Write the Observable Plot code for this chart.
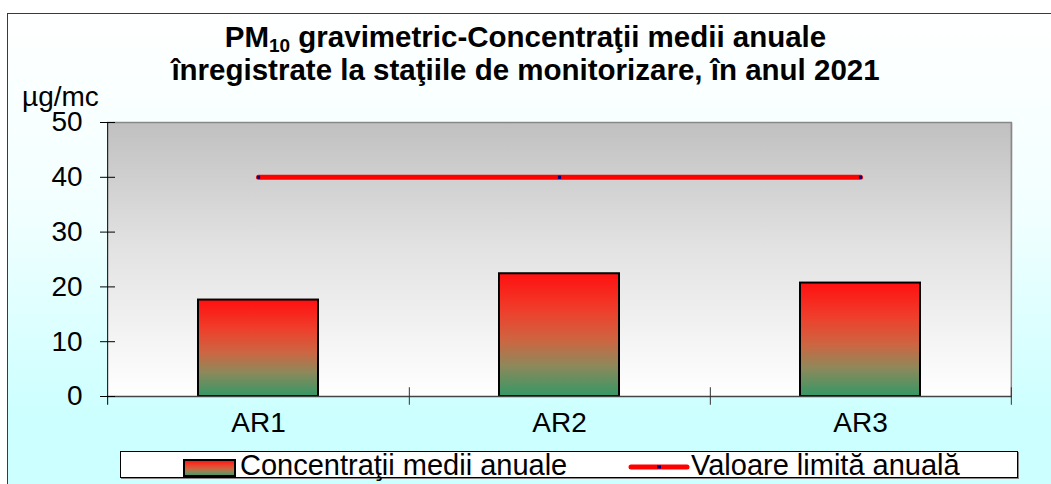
<!DOCTYPE html>
<html>
<head>
<meta charset="utf-8">
<script src="https://cdn.jsdelivr.net/npm/d3@7"></script>
<script src="https://cdn.jsdelivr.net/npm/@observablehq/plot@0.6"></script>
<style>
  html, body { margin: 0; padding: 0; background: #fff; }
  #wrap { position: relative; width: 1051px; height: 484px; overflow: hidden; font-family: "Liberation Sans", Arial, sans-serif; color: #000; }
  #bg { position: absolute; left: 7px; top: 13px; width: 1100px; height: 520px; border: 1.5px solid #3a3a3a;
        background: linear-gradient(to bottom, #ffffff 0%, #f2ffff 38%, #ccffff 78%, #ccffff 100%); }
  #title { position: absolute; left: 0; top: 20px; width: 1051px; text-align: center; font-weight: bold; font-size: 29.5px; line-height: 33px; }
  #title sub { font-size: 19px; line-height: 0; vertical-align: -5px; }
  #ylabel { position: absolute; left: 22px; top: 83px; font-size: 28px; line-height: 28px; }
  #chart { position: absolute; left: 0; top: 0; }
  #legend { position: absolute; left: 120px; top: 451px; width: 896px; height: 25px; background: #fff; border: 1px solid #000; box-shadow: 1px 1px 0 #888; }
  .lg { position: absolute; font-size: 29px; line-height: 29px; white-space: nowrap; }
</style>
</head>
<body>
<div id="wrap">
  <div id="bg"></div>
  <div id="title"></div>
  <div id="ylabel"></div>
  <div id="chart"></div>
  <div id="legend"></div>
</div>
<script>
// ---- data ----
const categories = ["AR1", "AR2", "AR3"];
const concentrations = [17.6, 22.4, 20.7];
const limitValues = [40, 40, 40];
const yTicks = [0, 10, 20, 30, 40, 50];
const titleMain = "PM";
const titleSub = "10";
const titleRest = " gravimetric-Concentraţii medii anuale";
const titleLine2 = "înregistrate la staţiile de monitorizare, în anul 2021";
const yLabel = "µg/mc";
const seriesBars = "Concentraţii medii anuale";
const seriesLimit = "Valoare limită anuală";

const bars = categories.map((c, i) => ({station: c, value: concentrations[i]}));
const limit = categories.map((c, i) => ({station: c, value: limitValues[i]}));

// ---- titles ----
const t = document.getElementById("title");
t.append(titleMain);
const sub = document.createElement("sub"); sub.textContent = titleSub; t.append(sub);
t.append(titleRest);
t.append(document.createElement("br"));
t.append(titleLine2);
document.getElementById("ylabel").textContent = yLabel;

// ---- chart ----
const W = 1051, H = 484, mL = 107, mR = 39, mT = 122, mB = 88;
const step = (W - mL - mR) / categories.length;
const font = "'Liberation Sans', Arial, sans-serif";

function gradStops(grad, stops) {
  for (const [o, c] of stops) grad.append("stop").attr("offset", o).attr("stop-color", c);
}
const barStops = [[0, "#ff1010"], [0.3, "#ef3e2b"], [0.55, "#cc6642"], [0.75, "#8f885a"], [1, "#359866"]];

const defsMark = () => {
  const defs = d3.create("svg:defs");
  gradStops(defs.append("linearGradient").attr("id", "barGrad").attr("x1", 0).attr("y1", 0).attr("x2", 0).attr("y2", 1), barStops);
  gradStops(defs.append("linearGradient").attr("id", "plotGrad").attr("x1", 0).attr("y1", 0).attr("x2", 0).attr("y2", 1),
    [[0, "#c0c0c0"], [0.45, "#e2e2e2"], [1, "#ffffff"]]);
  return defs.node();
};

const chart = Plot.plot({
  width: W, height: H,
  marginLeft: mL, marginRight: mR, marginTop: mT, marginBottom: mB,
  style: {background: "transparent", fontFamily: font, fontSize: "28px", color: "#000", overflow: "visible"},
  x: {domain: categories, paddingInner: 0.6, paddingOuter: 0.3, align: 0.5, axis: null},
  y: {domain: [0, 50], axis: null},
  marks: [
    defsMark,
    Plot.frame({fill: "url(#plotGrad)", stroke: null}),
    Plot.ruleY([50], {stroke: "#888888", strokeWidth: 1.5}),
    Plot.ruleX([categories[categories.length - 1]], {y1: 0, y2: 50, dx: step / 2, stroke: "#888888", strokeWidth: 1.5}),
    Plot.barY(bars, {x: "station", y: "value", fill: "url(#barGrad)", stroke: "#000", strokeWidth: 2}),
    Plot.ruleY([0], {stroke: "#444", strokeWidth: 1.5}),
    Plot.ruleX([categories[0]], {y1: -1.6, y2: 50, dx: -step / 2, stroke: "#000", strokeWidth: 1}),
    Plot.tickY(yTicks, {y: d => d, stroke: "#000", strokeWidth: 1, insetRight: (W - mL - mR) - 15, dx: -7}),
    Plot.ruleX(categories, {y1: -1.6, y2: 1.6, dx: step / 2, stroke: "#333", strokeWidth: 1}),
    Plot.text(yTicks, {x: () => categories[0], y: d => d, text: d => String(d), dx: -step / 2 - 25, textAnchor: "end", fontSize: 28, fill: "#000"}),
    Plot.text(categories, {x: d => d, text: d => d, frameAnchor: "bottom", dy: 35, fontSize: 28, fill: "#000"}),
    Plot.line(limit, {x: "station", y: "value", stroke: "#ff0000", strokeWidth: 5, strokeLinecap: "round"}),
    Plot.dot(limit, {x: "station", y: "value", symbol: "square", r: 1.8, fill: "#000080", stroke: null})
  ]
});
document.getElementById("chart").append(chart);

// ---- legend ----
const lg = document.getElementById("legend");
function swatchBars() {
  const s = d3.create("svg").attr("width", 54).attr("height", 20)
    .style("position", "absolute").style("left", "62px").style("top", "7px");
  gradStops(s.append("defs").append("linearGradient").attr("id", "lgGrad").attr("x1", 0).attr("y1", 0).attr("x2", 0).attr("y2", 1), barStops);
  s.append("rect").attr("x", 1).attr("y", 1).attr("width", 51).attr("height", 16)
    .attr("fill", "url(#lgGrad)").attr("stroke", "#000").attr("stroke-width", 2);
  return s.node();
}
function swatchLine() {
  const s = d3.create("svg").attr("width", 62).attr("height", 12)
    .style("position", "absolute").style("left", "507px").style("top", "9px");
  s.append("line").attr("x1", 3).attr("x2", 59).attr("y1", 6).attr("y2", 6)
    .attr("stroke", "#ff0000").attr("stroke-width", 5).attr("stroke-linecap", "round");
  s.append("rect").attr("x", 29).attr("y", 4.5).attr("width", 4).attr("height", 3).attr("fill", "#000080");
  return s.node();
}
lg.append(swatchBars());
const l1 = document.createElement("div"); l1.className = "lg"; l1.style.left = "119px"; l1.style.top = "-1px"; l1.textContent = seriesBars; lg.append(l1);
lg.append(swatchLine());
const l2 = document.createElement("div"); l2.className = "lg"; l2.style.left = "570px"; l2.style.top = "-1px"; l2.textContent = seriesLimit; lg.append(l2);
</script>
</body>
</html>
